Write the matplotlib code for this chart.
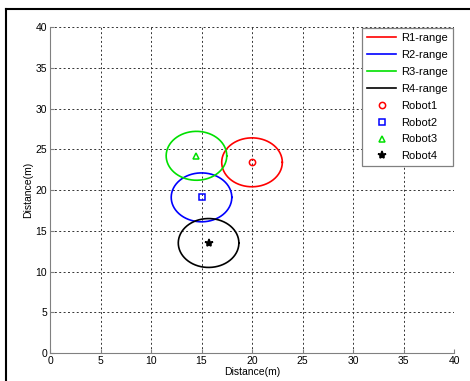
import numpy as np
import matplotlib.pyplot as plt
from matplotlib.lines import Line2D

plt.rcParams['font.family'] = ['Liberation Sans', 'DejaVu Sans']

# robot positions (m) and sensing range radius
robots = ['Robot1', 'Robot2', 'Robot3', 'Robot4']
robot_x = [20.0, 15.0, 14.5, 15.7]
robot_y = [23.4, 19.1, 24.2, 13.5]
ranges = [3.0, 3.0, 3.0, 3.0]
colors = ['red', 'blue', '#00e000', 'black']
markers = ['o', 's', '^', '*']
ticks = [0, 5, 10, 15, 20, 25, 30, 35, 40]

fig = plt.figure(figsize=(4.7, 3.81), dpi=100)
ax = fig.add_axes([0.1064, 0.0735, 0.8596, 0.8555])

t = np.linspace(0, 2 * np.pi, 200)
for i in range(4):
    ax.plot(robot_x[i] + ranges[i] * np.cos(t), robot_y[i] + ranges[i] * np.sin(t),
            color=colors[i], lw=1.2, label='R%d-range' % (i + 1))
for i in range(4):
    ms = 6 if markers[i] == '*' else 4.5
    ax.plot(robot_x[i], robot_y[i], ls='none', marker=markers[i], ms=ms,
            mfc='none' if markers[i] != '*' else 'black', mec=colors[i], mew=1.1,
            label=robots[i])

ax.set_xlim(0, 40)
ax.set_ylim(0, 40)
ax.set_xticks(ticks)
ax.set_yticks(ticks)
ax.grid(True, color='#333333', ls=(0, (2, 2.5)), lw=0.7)
ax.set_axisbelow(True)
for s in ['top', 'right']:
    ax.spines[s].set_visible(False)
for s in ['left', 'bottom']:
    ax.spines[s].set_color('#808080')
ax.tick_params(direction='in', length=3, labelsize=7.5, color='#808080', pad=2)
ax.set_xlabel('Distance(m)', fontsize=7.5, labelpad=1)
ax.set_ylabel('Distance(m)', fontsize=7.5, labelpad=2)

leg = ax.legend(loc='upper right', prop={'size': 8}, fancybox=False, framealpha=1,
                edgecolor='#808080', borderaxespad=0.1, handlelength=2.6,
                labelspacing=0.62, borderpad=0.45, handletextpad=0.45)
leg.get_frame().set_linewidth(0.9)

# outer frame edges of the screenshot
fig.add_artist(Line2D([6 / 470, 6 / 470], [0, 1 - 9 / 381], color='black', lw=1.5))
fig.add_artist(Line2D([6 / 470, 1], [1 - 9 / 381, 1 - 9 / 381], color='black', lw=1.5))

fig.savefig('out.png', dpi=100)
